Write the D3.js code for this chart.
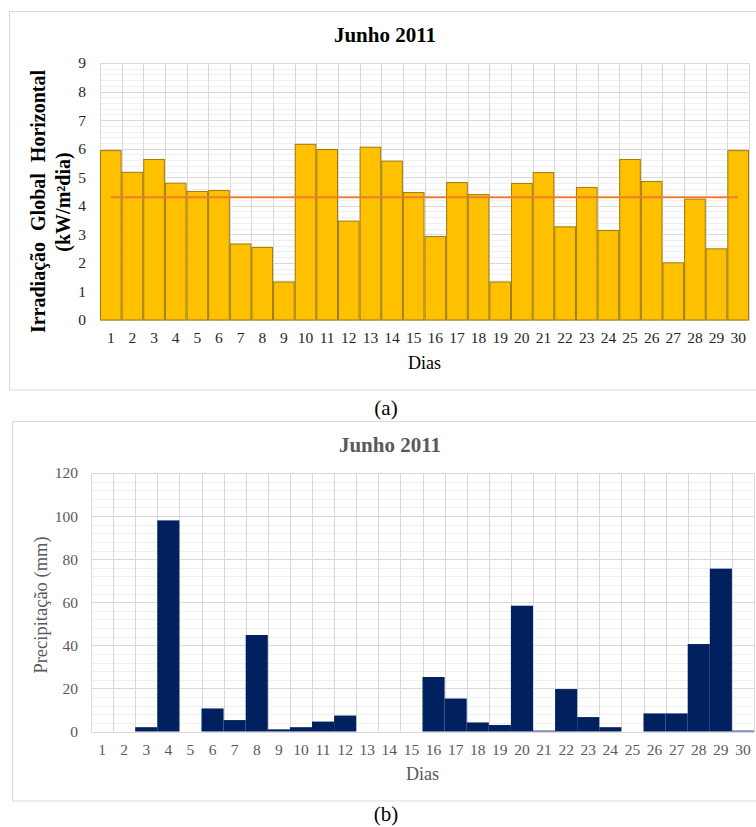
<!DOCTYPE html>
<html><head><meta charset="utf-8">
<script src="https://cdn.jsdelivr.net/npm/d3@7"></script>
<style>
html,body{margin:0;padding:0;background:#fff;}
svg{display:block;font-family:"Liberation Serif","Times New Roman",serif;}
</style></head>
<body>
<svg id="c" width="756" height="827"></svg>
<script>
const dias = d3.range(1, 31).map(String);
const irradiacao = [5.95,5.19,5.64,4.81,4.52,4.55,2.68,2.56,1.35,6.17,5.99,3.48,6.07,5.58,4.48,2.94,4.83,4.41,1.35,4.80,5.18,3.28,4.66,3.15,5.64,4.87,2.02,4.25,2.51,5.95];
const mediaIrr = 4.3;
const precipitacao = [0,0,2,98,0,10.7,5.3,44.8,1,2,4.6,7.4,0,0,0,25.3,15.3,4.2,3,58.4,0.4,19.7,6.7,2,0,8.4,8.4,40.6,75.6,0.4];
const irrTicks = d3.range(0, 10);
const precTicks = [0,20,40,60,80,100,120];

const svg = d3.select("#c");

// Frames
svg.append("rect").attr("x",9.5).attr("y",11.5).attr("width",760).attr("height",378.5)
  .attr("fill","none").attr("stroke","#d9d9d9");
svg.append("rect").attr("x",12.5).attr("y",421.5).attr("width",760).attr("height",379.5)
  .attr("fill","none").attr("stroke","#d9d9d9");

function grid(g, x, y, domainMax, major, minorStep, left, right, top, bottom) {
  const minors = d3.range(0, domainMax + 1e-9, minorStep);
  g.selectAll("line.mn").data(minors).join("line")
    .attr("x1", left).attr("x2", right)
    .attr("y1", d => Math.round(y(d)) + 0.5).attr("y2", d => Math.round(y(d)) + 0.5)
    .attr("stroke", "#efefef").attr("stroke-width", 1);
  g.selectAll("line.mj").data(major).join("line")
    .attr("x1", left).attr("x2", right)
    .attr("y1", d => Math.round(y(d)) + 0.5).attr("y2", d => Math.round(y(d)) + 0.5)
    .attr("stroke", "#d9d9d9").attr("stroke-width", 1);
  const bounds = x.domain().map(d => x(d)).concat([right]);
  g.selectAll("line.v").data(bounds).join("line")
    .attr("x1", d => Math.round(d) + 0.5).attr("x2", d => Math.round(d) + 0.5)
    .attr("y1", top).attr("y2", bottom)
    .attr("stroke", "#d9d9d9").attr("stroke-width", 1);
}

// ---------- Chart (a) ----------
{
  const L = 100, R = 749, T = 63, B = 320;
  const x = d3.scaleBand().domain(dias).range([L, R]).padding(0);
  const y = d3.scaleLinear().domain([0, 9]).range([B, T]);
  const g = svg.append("g");
  grid(g.append("g"), x, y, 9, irrTicks, 0.2, L, R, T, B);

  g.append("g").selectAll("rect").data(irradiacao).join("rect")
    .attr("x", (d, i) => x(dias[i]) + 0.5)
    .attr("y", d => y(d) + 0.5)
    .attr("width", x.bandwidth() - 1)
    .attr("height", d => B - y(d) - 0.5)
    .attr("fill", "#FFC000").attr("stroke", "#9E7A0C").attr("stroke-width", 1);

  g.append("line")
    .attr("x1", x(dias[0]) + x.bandwidth() / 2).attr("x2", x(dias[29]) + x.bandwidth() / 2)
    .attr("y1", y(mediaIrr)).attr("y2", y(mediaIrr))
    .attr("stroke", "#ED7D31").attr("stroke-width", 2);

  const yAx = d3.axisLeft(y).tickValues(irrTicks).tickSize(0).tickPadding(14);
  g.append("g").attr("transform", `translate(${L},0)`).call(yAx)
    .call(a => a.select(".domain").remove())
    .selectAll("text").attr("font-family", "Liberation Serif").attr("font-size", 15.5).attr("fill", "#262626");
  const xAx = d3.axisBottom(x).tickSize(0).tickPadding(12);
  g.append("g").attr("transform", `translate(0,${B})`).call(xAx)
    .call(a => a.select(".domain").remove())
    .selectAll("text").attr("font-family", "Liberation Serif").attr("font-size", 15.5).attr("fill", "#262626");

  g.append("text").attr("x", 385).attr("y", 42).attr("text-anchor", "middle")
    .attr("font-weight", "bold").attr("font-size", 21).attr("fill", "#000").text("Junho 2011");
  g.append("text").attr("x", (L + R) / 2).attr("y", 369).attr("text-anchor", "middle")
    .attr("font-size", 18).attr("fill", "#000").text("Dias");
  g.append("text").attr("transform", "translate(45,201.5) rotate(-90)").attr("text-anchor", "middle")
    .attr("font-weight", "bold").attr("font-size", 20).attr("fill", "#000")
    .attr("word-spacing", 6)
    .text("Irradiação Global Horizontal");
  g.append("text").attr("transform", "translate(70,202) rotate(-90)").attr("text-anchor", "middle")
    .attr("font-weight", "bold").attr("font-size", 20).attr("fill", "#000")
    .text("(kW/m²dia)");
  svg.append("text").attr("x", 386).attr("y", 415).attr("text-anchor", "middle")
    .attr("font-size", 21).attr("fill", "#000").text("(a)");
}

// ---------- Chart (b) ----------
{
  const L = 91, R = 754, T = 473, B = 731.5;
  const x = d3.scaleBand().domain(dias).range([L, R]).padding(0);
  const y = d3.scaleLinear().domain([0, 120]).range([B, T]);
  const g = svg.append("g");
  grid(g.append("g"), x, y, 120, precTicks, 4, L, R, T, B);

  g.append("g").selectAll("rect").data(precipitacao).join("rect")
    .attr("x", (d, i) => x(dias[i]))
    .attr("y", d => y(d))
    .attr("width", x.bandwidth())
    .attr("height", d => B - y(d))
    .attr("fill", "#002060");

  const yAx = d3.axisLeft(y).tickValues(precTicks).tickSize(0).tickPadding(13);
  g.append("g").attr("transform", `translate(${L},0)`).call(yAx)
    .call(a => a.select(".domain").remove())
    .selectAll("text").attr("font-family", "Liberation Serif").attr("font-size", 15.5).attr("fill", "#595959");
  const xAx = d3.axisBottom(x).tickSize(0).tickPadding(12);
  g.append("g").attr("transform", `translate(0,${B})`).call(xAx)
    .call(a => a.select(".domain").remove())
    .selectAll("text").attr("font-family", "Liberation Serif").attr("font-size", 15.5).attr("fill", "#595959");

  g.append("text").attr("x", 390).attr("y", 452).attr("text-anchor", "middle")
    .attr("font-weight", "bold").attr("font-size", 21).attr("fill", "#595959").text("Junho 2011");
  g.append("text").attr("x", (L + R) / 2).attr("y", 780).attr("text-anchor", "middle")
    .attr("font-size", 18).attr("fill", "#595959").text("Dias");
  g.append("text").attr("transform", "translate(47,605) rotate(-90)").attr("text-anchor", "middle")
    .attr("font-size", 18.5).attr("fill", "#595959").text("Precipitação (mm)");
  svg.append("text").attr("x", 386).attr("y", 821).attr("text-anchor", "middle")
    .attr("font-size", 21).attr("fill", "#000").text("(b)");
}
</script>
</body></html>
